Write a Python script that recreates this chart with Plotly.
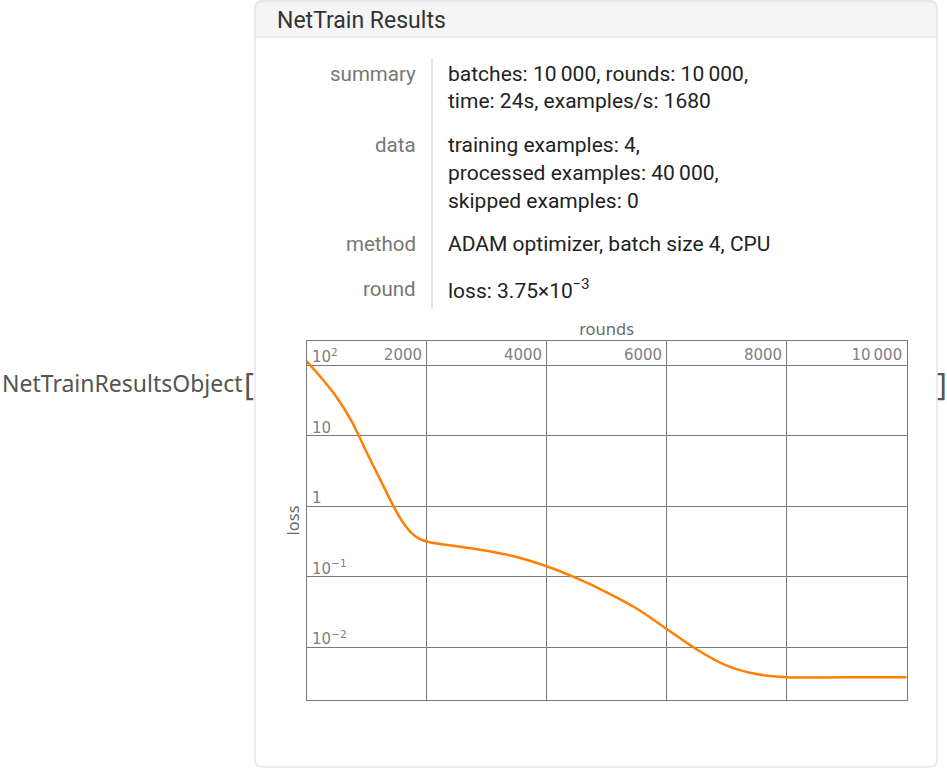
import plotly.graph_objects as go

# ---- data ----
rounds = [0, 250, 500, 750, 1000, 1250, 1450, 1600, 1750, 1900, 2050, 2228,
          2500, 3000, 3500, 4000, 4500, 5000, 5500, 6000, 6500, 7000, 7500,
          8000, 9000, 10000]
loss = [114.8, 66.1, 35.5, 16.2, 5.89, 2.19, 1.0, 0.603, 0.417, 0.339, 0.309,
        0.292, 0.272, 0.234, 0.191, 0.141, 0.0955, 0.0603, 0.0355, 0.0182,
        0.00933, 0.00550, 0.00417, 0.00376, 0.00375, 0.00375]

x_tickvals = [2000, 4000, 6000, 8000, 10000]
x_ticktext = ["2000", "4000", "6000", "8000", "10\u2009000"]
y_tickvals = [100, 10, 1, 0.1, 0.01]
y_ticktext = ["10<sup>2</sup>", "10", "1", "10<sup>\u22121</sup>", "10<sup>\u22122</sup>"]

info_keys = ["summary", "data", "method", "round"]
info_values = [
    ["batches: 10\u2009000, rounds: 10\u2009000,", "time: 24s, examples/s: 1680"],
    ["training examples: 4,", "processed examples: 40\u2009000,", "skipped examples: 0"],
    ["ADAM optimizer, batch size 4, CPU"],
    ["loss: 3.75\u00d710<sup>\u22123</sup>"],
]
info_line_y = [[74, 101], [145, 173, 201], [244], [289]]

W, H = 947, 769


def X(p):
    return p / W


def Y(p):
    return 1 - p / H


fig = go.Figure()
fig.add_trace(go.Scatter(
    x=rounds, y=loss, mode="lines",
    line=dict(color="#FF8000", width=2.5, shape="spline", smoothing=1.0),
    hoverinfo="skip", showlegend=False,
))

grid_c = "#7a7a7a"
fig.update_layout(
    width=W, height=H,
    margin=dict(l=0, r=0, t=0, b=0),
    paper_bgcolor="white", plot_bgcolor="white",
    showlegend=False,
    xaxis=dict(
        domain=[X(306.5), X(906.7)], range=[0, 10000], side="top",
        tickvals=x_tickvals, ticktext=x_ticktext, ticks="",
        ticklabelposition="inside left", ticklabelstandoff=6, ticklabelshift=-4,
        tickfont=dict(family="DejaVu Sans", size=15, color="#808080"),
        showgrid=True, gridcolor=grid_c, gridwidth=1,
        showline=True, linecolor=grid_c, linewidth=1, mirror=True,
        zeroline=False,
        title=dict(text="rounds", standoff=6,
                   font=dict(family="Noto Sans", size=16.5, color="#6a6a6a")),
    ),
    yaxis=dict(
        domain=[Y(700), Y(340.7)], type="log", range=[-2.748, 2.349],
        tickvals=y_tickvals, ticktext=y_ticktext, ticks="",
        ticklabelposition="inside top", ticklabelstandoff=5, ticklabelshift=2,
        tickfont=dict(family="DejaVu Sans", size=15, color="#808080"),
        showgrid=True, gridcolor=grid_c, gridwidth=1,
        showline=True, linecolor=grid_c, linewidth=1, mirror=True,
        zeroline=False,
        title=dict(text="loss", standoff=8,
                   font=dict(family="Noto Sans", size=16.5, color="#6a6a6a")),
    ),
)

# ---- panel decoration ----
r = 8
x0, x1, y0, y1 = 255, 937, 1, 767
panel = (f"M {X(x0 + r)},{Y(y0)} L {X(x1 - r)},{Y(y0)} Q {X(x1)},{Y(y0)} {X(x1)},{Y(y0 + r)} "
         f"L {X(x1)},{Y(y1 - r)} Q {X(x1)},{Y(y1)} {X(x1 - r)},{Y(y1)} "
         f"L {X(x0 + r)},{Y(y1)} Q {X(x0)},{Y(y1)} {X(x0)},{Y(y1 - r)} "
         f"L {X(x0)},{Y(y0 + r)} Q {X(x0)},{Y(y0)} {X(x0 + r)},{Y(y0)} Z")
header = (f"M {X(x0)},{Y(37)} L {X(x0)},{Y(y0 + r)} Q {X(x0)},{Y(y0)} {X(x0 + r)},{Y(y0)} "
          f"L {X(x1 - r)},{Y(y0)} Q {X(x1)},{Y(y0)} {X(x1)},{Y(y0 + r)} L {X(x1)},{Y(37)} Z")
fig.add_shape(type="path", path=panel, xref="paper", yref="paper",
              fillcolor="white", line=dict(color="#e6e6e6", width=1.5), layer="below")
fig.add_shape(type="path", path=header, xref="paper", yref="paper",
              fillcolor="#f5f5f5", line=dict(color="#e6e6e6", width=1.5), layer="below")
fig.add_shape(type="line", xref="paper", yref="paper",
              x0=X(432), x1=X(432), y0=Y(58), y1=Y(308),
              line=dict(color="#dddddd", width=1.5), layer="below")

ann = []
ann.append(dict(text="NetTrain Results", x=X(275), y=Y(20), xanchor="left", yanchor="middle",
                font=dict(family="Roboto", size=23, color="#333333")))
ann.append(dict(text="NetTrainResultsObject", x=X(0), y=Y(383), xanchor="left", yanchor="middle",
                font=dict(family="Noto Sans", size=23, color="#555555")))
ann.append(dict(text="[", x=X(242), y=Y(383), xanchor="left", yanchor="middle",
                font=dict(family="Noto Sans", size=30, color="#555555")))
ann.append(dict(text="]", x=X(935), y=Y(383), xanchor="left", yanchor="middle",
                font=dict(family="Noto Sans", size=30, color="#555555")))
for key, vals, ys in zip(info_keys, info_values, info_line_y):
    ann.append(dict(text=key, x=X(418), y=Y(ys[0]), xanchor="right", yanchor="middle",
                    font=dict(family="Roboto", size=20.5, color="#777777")))
    for v, yy in zip(vals, ys):
        ann.append(dict(text=v, x=X(446), y=Y(yy), xanchor="left", yanchor="middle",
                        font=dict(family="Roboto", size=21, color="#222222")))
for a in ann:
    a.update(xref="paper", yref="paper", showarrow=False)
fig.update_layout(annotations=ann)

fig.write_html("out.html", post_script="document.body.style.margin='0';",
               config={"displayModeBar": False})
